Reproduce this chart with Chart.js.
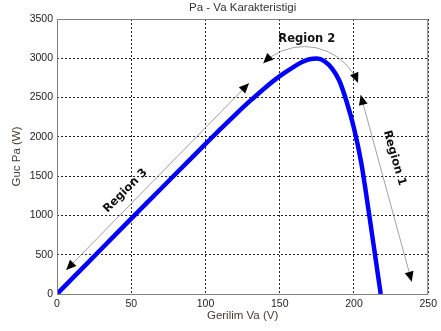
<!DOCTYPE html>
<html>
<head>
<meta charset="utf-8">
<script src="https://cdn.jsdelivr.net/npm/chart.js@4.4.1/dist/chart.umd.min.js"></script>
<style>
  html, body { margin: 0; padding: 0; background: #fff; }
</style>
</head>
<body>
<canvas id="pvChart" width="441" height="331"></canvas>
<script>
// Pa - Va curve (voltage in V, power in W)
const voltage = [0, 10, 20, 30, 40, 50, 60, 70, 80, 90, 100, 110, 120, 130, 140, 150,
  160, 165, 170, 175, 180, 185, 190, 195, 200, 205, 210, 215, 218];
const power = [0, 192, 384, 576, 768, 960, 1150, 1340, 1530, 1720, 1910, 2098, 2281, 2457, 2623, 2773,
  2898, 2952, 2988, 2997, 2965, 2875, 2720, 2450, 2110, 1660, 1040, 390, 0];

const xTickValues = [0, 50, 100, 150, 200, 250];
const yTickValues = [0, 500, 1000, 1500, 2000, 2500, 3000, 3500];

// annotation arrows and labels, in data units
const straightArrows = [
  [[6.2, 305], [129.3, 2682]],   // region 3
  [[204.5, 2533], [238.9, 157]], // region 1
];
const arcArrow = [[138.9, 2936], [168.9, 3148], [202.7, 2689]]; // region 2
const regionLabels = [
  { text: "Region 3", at: [46.1, 1313], angle: -45 },
  { text: "Region 2", at: [168.2, 3242], angle: 0 },
  { text: "Region 1", at: [227.2, 1731], angle: 74 },
];
const chartTitle = "Pa - Va Karakteristigi";

function arrowHead(ctx, tx, ty, dx, dy) {
  const len = Math.hypot(dx, dy);
  const ux = dx / len, uy = dy / len;
  const L = 10, W = 4.5;
  ctx.beginPath();
  ctx.moveTo(tx, ty);
  ctx.lineTo(tx - ux * L - uy * W, ty - uy * L + ux * W);
  ctx.lineTo(tx - ux * L + uy * W, ty - uy * L - ux * W);
  ctx.closePath();
  ctx.fill();
}

const regionPlugin = {
  id: "regions",
  afterDatasetsDraw(chart) {
    const { ctx, chartArea: a, scales: { x, y } } = chart;
    const px = (p) => [x.getPixelForValue(p[0]), y.getPixelForValue(p[1])];
    ctx.save();

    ctx.strokeStyle = "#8a8a8a";
    ctx.lineWidth = 0.8;
    ctx.fillStyle = "#000";

    straightArrows.forEach(([p0, p1]) => {
      const [x0, y0] = px(p0), [x1, y1] = px(p1);
      ctx.beginPath();
      ctx.moveTo(x0, y0);
      ctx.lineTo(x1, y1);
      ctx.stroke();
      arrowHead(ctx, x0, y0, x0 - x1, y0 - y1);
      arrowHead(ctx, x1, y1, x1 - x0, y1 - y0);
    });

    // circle through the three arc points
    const [A, B, C] = arcArrow.map(px);
    const d = 2 * (A[0] * (B[1] - C[1]) + B[0] * (C[1] - A[1]) + C[0] * (A[1] - B[1]));
    const sa = A[0] * A[0] + A[1] * A[1], sb = B[0] * B[0] + B[1] * B[1], sc = C[0] * C[0] + C[1] * C[1];
    const cx = (sa * (B[1] - C[1]) + sb * (C[1] - A[1]) + sc * (A[1] - B[1])) / d;
    const cy = (sa * (C[0] - B[0]) + sb * (A[0] - C[0]) + sc * (B[0] - A[0])) / d;
    const r = Math.hypot(A[0] - cx, A[1] - cy);
    const a0 = Math.atan2(A[1] - cy, A[0] - cx);
    const a2 = Math.atan2(C[1] - cy, C[0] - cx);
    ctx.beginPath();
    ctx.arc(cx, cy, r, a0, a2, false);
    ctx.stroke();
    arrowHead(ctx, A[0], A[1], Math.sin(a0), -Math.cos(a0));
    arrowHead(ctx, C[0], C[1], -Math.sin(a2), Math.cos(a2));

    ctx.fillStyle = "#111";
    ctx.font = "bold 11.5px 'DejaVu Sans'";
    ctx.textAlign = "center";
    ctx.textBaseline = "middle";
    regionLabels.forEach((l) => {
      const [lx, ly] = px(l.at);
      ctx.save();
      ctx.translate(lx, ly);
      ctx.rotate(l.angle * Math.PI / 180);
      ctx.fillText(l.text, 0, 0);
      ctx.restore();
    });

    // title centred over the plot area
    ctx.fillStyle = "#333";
    ctx.font = "11.5px 'Liberation Sans', Arial, sans-serif";
    ctx.fillText(chartTitle, (a.left + a.right) / 2, 8);

    // plot frame
    ctx.strokeStyle = "#808080";
    ctx.lineWidth = 1;
    ctx.strokeRect(a.left + 0.5, a.top + 0.5, a.right - a.left - 1, a.bottom - a.top);
    ctx.restore();
  },
};

const tickFont = { family: "'Liberation Sans', Arial, sans-serif", size: 10.5 };
const axisTitleFont = { family: "'Liberation Sans', Arial, sans-serif", size: 11.5 };

new Chart(document.getElementById("pvChart"), {
  type: "line",
  data: {
    datasets: [
      {
        label: "Pa",
        data: voltage.map((v, i) => ({ x: v, y: power[i] })),
        borderColor: "#0000ff",
        borderWidth: 4.5,
        pointRadius: 0,
        cubicInterpolationMode: "monotone",
        fill: false,
      },
    ],
  },
  options: {
    responsive: false,
    animation: false,
    devicePixelRatio: 1,
    layout: { padding: { left: 0, right: 9, top: 19, bottom: 0 } },
    plugins: {
      legend: { display: false },
      tooltip: { enabled: false },
      title: { display: false },
    },
    scales: {
      x: {
        type: "linear",
        min: xTickValues[0],
        max: xTickValues[xTickValues.length - 1],
        afterBuildTicks: (s) => { s.ticks = xTickValues.map((v) => ({ value: v })); },
        afterFit: (s) => { s.height = 37; },
        ticks: { color: "#222", font: tickFont, padding: 4, maxRotation: 0, callback: (v) => String(v) },
        grid: { color: "#222", lineWidth: 1, drawTicks: false },
        border: { display: false, dash: [2, 2] },
        title: {
          display: true,
          text: "Gerilim Va (V)",
          color: "#4a3a30",
          font: axisTitleFont,
          padding: { top: 0, bottom: 8 },
        },
      },
      y: {
        min: yTickValues[0],
        max: yTickValues[yTickValues.length - 1],
        afterBuildTicks: (s) => { s.ticks = yTickValues.map((v) => ({ value: v })); },
        afterFit: (s) => { s.width = 57; },
        ticks: { color: "#222", font: tickFont, padding: 4, callback: (v) => String(v) },
        grid: { color: "#222", lineWidth: 1, drawTicks: false },
        border: { display: false, dash: [2, 2] },
        title: {
          display: true,
          text: "Guc Pa (W)",
          color: "#4a3a30",
          font: axisTitleFont,
          padding: { top: 10, bottom: 0 },
        },
      },
    },
  },
  plugins: [regionPlugin],
});
</script>
</body>
</html>
